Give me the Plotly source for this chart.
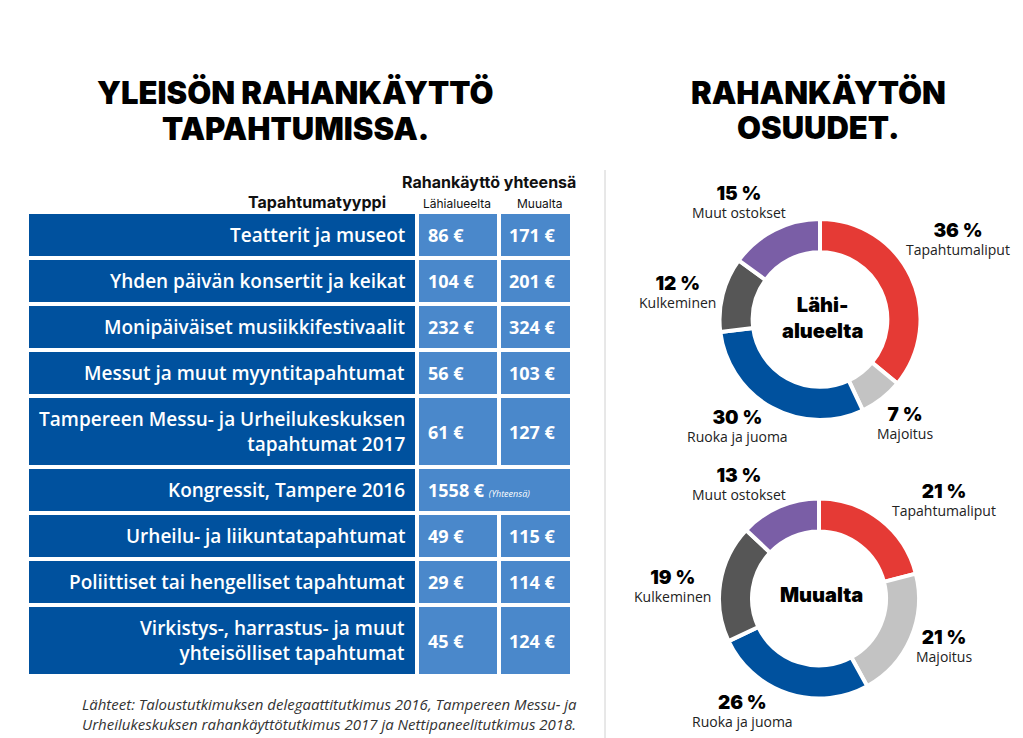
import plotly.graph_objects as go

# ---------------- data ----------------
categories = [
    "Teatterit ja museot",
    "Yhden päivän konsertit ja keikat",
    "Monipäiväiset musiikkifestivaalit",
    "Messut ja muut myyntitapahtumat",
    "Tampereen Messu- ja Urheilukeskuksen<br>tapahtumat 2017",
    "Kongressit, Tampere 2016",
    "Urheilu- ja liikuntatapahtumat",
    "Poliittiset tai hengelliset tapahtumat",
    "Virkistys-, harrastus- ja muut<br>yhteisölliset tapahtumat",
]
local_spend = [86, 104, 232, 56, 61, 1558, 49, 29, 45]
away_spend = [171, 201, 324, 103, 127, None, 115, 114, 124]

share_labels = ["Tapahtumaliput", "Majoitus", "Ruoka ja juoma", "Kulkeminen", "Muut ostokset"]
local_share = [36, 7, 30, 12, 15]
away_share = [21, 21, 26, 19, 13]

# ---------------- styling / layout ----------------
W, H = 1023, 738
DARK = "#00519E"
LIGHT = "#4A88CB"
share_colors = ["#E53A35", "#C3C3C3", "#00519E", "#565656", "#7A5EA6"]

TITLE_FONT = "Inter"
BODY_FONT = "Open Sans"

# table geometry (pixels)
top0, h1, h2, gap = 214, 42, 67, 4
lab_x0, lab_x1 = 29, 415
loc_x0, loc_x1 = 419, 497
awy_x0, awy_x1 = 501, 570

heights, centers = [], []
y = top0
for c in categories:
    h = h2 if "<br>" in c else h1
    heights.append(h)
    centers.append(y + h / 2)
    y += h + gap

fig = go.Figure()

# label cells
fig.add_trace(go.Bar(
    orientation="h", y=centers, x=[lab_x1 - lab_x0] * len(categories),
    base=[lab_x0] * len(categories), width=heights,
    marker=dict(color=DARK, line=dict(width=0)), hoverinfo="skip", showlegend=False,
))
# local cells (total row spans both columns)
loc_w = [(awy_x1 - loc_x0) if a is None else (loc_x1 - loc_x0) for a in away_spend]
fig.add_trace(go.Bar(
    orientation="h", y=centers, x=loc_w, base=[loc_x0] * len(categories), width=heights,
    marker=dict(color=LIGHT, line=dict(width=0)), hoverinfo="skip", showlegend=False,
))
# away cells
awy_y = [c for c, a in zip(centers, away_spend) if a is not None]
awy_h = [h for h, a in zip(heights, away_spend) if a is not None]
fig.add_trace(go.Bar(
    orientation="h", y=awy_y, x=[awy_x1 - awy_x0] * len(awy_y), base=[awy_x0] * len(awy_y),
    width=awy_h, marker=dict(color=LIGHT, line=dict(width=0)), hoverinfo="skip", showlegend=False,
))

ann = []
for cat, lv, av, cy in zip(categories, local_spend, away_spend, centers):
    ann.append(dict(x=lab_x1 - 8, y=cy, text=cat, xanchor="right", yanchor="middle", align="right",
                    showarrow=False, font=dict(family=BODY_FONT, size=19, color="white", weight=600)))
    if av is None:
        txt = f"<b>{lv} €</b> <i><span style='font-size:9px'>(Yhteensä)</span></i>"
    else:
        txt = f"<b>{lv} €</b>"
    ann.append(dict(x=loc_x0 + 7, y=cy, text=txt, xanchor="left", yanchor="middle",
                    showarrow=False, font=dict(family=BODY_FONT, size=18, color="white")))
    if av is not None:
        ann.append(dict(x=awy_x0 + 6, y=cy, text=f"<b>{av} €</b>", xanchor="left", yanchor="middle",
                        showarrow=False, font=dict(family=BODY_FONT, size=18, color="white")))

# table headers
ann += [
    dict(x=489, y=182, text="Rahankäyttö yhteensä", xanchor="center", yanchor="middle", showarrow=False,
         font=dict(family=TITLE_FONT, size=16, color="#111", weight=700)),
    dict(x=388, y=202, text="Tapahtumatyyppi", xanchor="right", yanchor="middle", showarrow=False,
         font=dict(family=TITLE_FONT, size=16, color="#111", weight=700)),
    dict(x=457, y=203, text="Lähialueelta", xanchor="center", yanchor="middle", showarrow=False,
         font=dict(family=TITLE_FONT, size=12, color="#111")),
    dict(x=540, y=203, text="Muualta", xanchor="center", yanchor="middle", showarrow=False,
         font=dict(family=TITLE_FONT, size=12, color="#111")),
]

# titles
for txt, x, y in [("YLEISÖN RAHANKÄYTTÖ", 295, 92), ("TAPAHTUMISSA.", 295, 128),
                  ("RAHANKÄYTÖN", 818, 92), ("OSUUDET.", 818, 127)]:
    ann.append(dict(x=x, y=y, text=txt, xanchor="center", yanchor="middle", showarrow=False,
                    font=dict(family=TITLE_FONT, size=31, color="#000", weight=900)))

# source
ann.append(dict(x=80, y=714,
                text="<i>Lähteet: Taloustutkimuksen delegaattitutkimus 2016, Tampereen Messu- ja<br>"
                     "Urheilukeskuksen rahankäyttötutkimus 2017 ja Nettipaneelitutkimus 2018.</i>",
                xanchor="left", yanchor="middle", align="left", showarrow=False,
                font=dict(family=BODY_FONT, size=15, color="#333")))

# donuts
donuts = [
    dict(values=local_share, cx=820, cy=319.5, r=100.5, title="Lähi-<br>alueelta", ty=318,
         pos=[(958, 239), (905, 423), (737, 426), (677, 292), (739, 202)]),
    dict(values=away_share, cx=819, cy=598.5, r=100, title="Muualta", ty=595,
         pos=[(944, 500), (944, 646), (742, 711), (672, 586), (739, 484)]),
]
for d in donuts:
    fig.add_trace(go.Pie(
        labels=share_labels, values=d["values"], sort=False, direction="clockwise", rotation=0,
        hole=0.67, textinfo="none", hoverinfo="label+percent", showlegend=False,
        marker=dict(colors=share_colors, line=dict(color="white", width=4)),
        domain=dict(x=[(d["cx"] - d["r"]) / W, (d["cx"] + d["r"]) / W],
                    y=[1 - (d["cy"] + d["r"]) / H, 1 - (d["cy"] - d["r"]) / H]),
    ))
    ann.append(dict(x=d["cx"] + 2, y=d["ty"], text=d["title"], xanchor="center", yanchor="middle",
                    showarrow=False, font=dict(family=TITLE_FONT, size=20, color="#000", weight=900)))
    for lab, v, (px, py) in zip(share_labels, d["values"], d["pos"]):
        txt = (f"<span style='font-family:{TITLE_FONT};font-size:19px;font-weight:900;color:#000'>"
               f"{v} %</span><br>{lab}")
        ann.append(dict(x=px, y=py, text=txt, xanchor="center", yanchor="middle", align="center",
                        showarrow=False, font=dict(family=BODY_FONT, size=14, color="#222")))

fig.update_layout(
    width=W, height=H, margin=dict(l=0, r=0, t=0, b=0),
    paper_bgcolor="white", plot_bgcolor="white", barmode="overlay", bargap=0,
    xaxis=dict(range=[0, W], visible=False, fixedrange=True),
    yaxis=dict(range=[H, 0], visible=False, fixedrange=True),
    annotations=[dict(a, xref="x", yref="y") for a in ann],
    shapes=[dict(type="line", xref="x", yref="y", x0=605, x1=605, y0=170, y1=H,
                 line=dict(color="#D0D0D0", width=1))],
)

fig.write_html("out.html", config={"displayModeBar": False},
               post_script="document.body.style.margin='0';")
